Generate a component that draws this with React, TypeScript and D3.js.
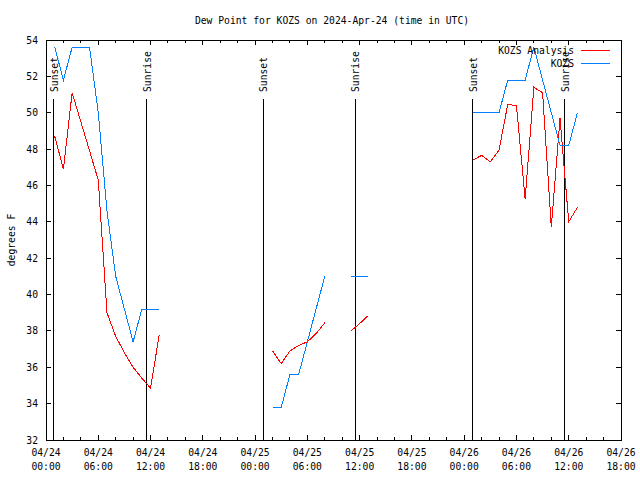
import React from "react";
import * as d3 from "d3";

// Hours after 2024-04-24 00:00 UTC (shared by both series)
const obsHours = [1, 2, 3, 4, 5, 6, 7, 8, 9, 10, 11, 12, 13, 26, 27, 28, 29, 30, 31, 32, 35, 36, 37, 49, 50, 51, 52, 53, 54, 55, 56, 57, 58, 59, 60, 61];
const kozsValues = [53.6, 51.8, 53.6, 53.6, 53.6, 50.0, 44.6, 41.0, 39.2, 37.4, 39.2, 39.2, 39.2, 33.8, 33.8, 35.6, 35.6, 37.4, 39.2, 41.0, 41.0, 41.0, 41.0, 50.0, 50.0, 50.0, 50.0, 51.8, 51.8, 51.8, 53.6, 51.8, 50.0, 48.2, 48.2, 50.0];
const analysisValues = [48.7, 46.9, 51.1, 49.5, 47.9, 46.3, 39.0, 37.7, 36.8, 36.0, 35.4, 34.85, 37.8, 36.9, 36.2, 36.9, 37.2, 37.4, 37.85, 38.45, 38.0, 38.4, 38.85, 47.4, 47.65, 47.3, 47.95, 50.45, 50.4, 45.25, 51.4, 51.1, 43.7, 49.7, 44.0, 44.8];

const sunsetTimes = ["2024-04-24T00:50Z", "2024-04-25T00:52Z", "2024-04-26T00:55Z"];
const sunriseTimes = ["2024-04-24T11:30Z", "2024-04-25T11:28Z", "2024-04-26T11:28Z"];

const yTicks = [32, 34, 36, 38, 40, 42, 44, 46, 48, 50, 52, 54];
const startTime = "2024-04-24T00:00Z";
const endTime = "2024-04-26T18:00Z";

const titleText = "Dew Point for KOZS on 2024-Apr-24 (time in UTC)";
const yLabel = "degrees F";
const seriesNames = ["KOZS Analysis", "KOZS"];
const seriesColors = ["#ff0000", "#0080ff"];

const W = 640, H = 480;
const L = 46, R = 621, T = 40, B = 440;
const FONT = "'DejaVu Sans Mono', monospace";
const FS = 9.7;

export default function App() {
  const t0 = new Date(startTime);
  const x = d3.scaleUtc().domain([t0, new Date(endTime)]).range([L, R]);
  const y = d3.scaleLinear().domain([32, 54]).range([B, T]);
  const toDate = (h: number) => new Date(t0.getTime() + h * 3600e3);

  const segments = (vals: number[]) => {
    const segs: [Date, number][][] = [];
    let cur: [Date, number][] = [];
    obsHours.forEach((h, i) => {
      if (i > 0 && h - obsHours[i - 1] > 1) {
        segs.push(cur);
        cur = [];
      }
      cur.push([toDate(h), vals[i]]);
    });
    segs.push(cur);
    return segs;
  };

  const line = d3
    .line<[Date, number]>()
    .x((d) => x(d[0]))
    .y((d) => y(d[1]));

  const majorTicks = x.ticks(d3.utcHour.every(6)!);
  const minorTicks = x.ticks(d3.utcHour.every(2)!).filter((t) => t.getUTCHours() % 6 !== 0);
  const fmtDate = d3.utcFormat("%m/%d");
  const fmtTime = d3.utcFormat("%H:%M");

  const events = [
    ...sunsetTimes.map((t) => ({ t: new Date(t), label: "Sunset" })),
    ...sunriseTimes.map((t) => ({ t: new Date(t), label: "Sunrise" })),
  ];

  const seriesData = [analysisValues, kozsValues];

  return (
    <svg
      width={W}
      height={H}
      style={{ position: "absolute", left: 0, top: 0, background: "#fff" }}
      fontFamily={FONT}
      fontSize={FS}
    >
      <rect x={0} y={0} width={W} height={H} fill="#fff" />
      <text x={332} y={20} textAnchor="middle" dominantBaseline="central" fill="#000">
        {titleText}
      </text>

      {/* y ticks */}
      {yTicks.map((v) => (
        <g key={v}>
          <line x1={L} x2={L + 5} y1={y(v)} y2={y(v)} stroke="#000" shapeRendering="crispEdges" />
          <line x1={R} x2={R - 5} y1={y(v)} y2={y(v)} stroke="#000" shapeRendering="crispEdges" />
          <text x={38} y={y(v)} textAnchor="end" dominantBaseline="central" fill="#000">
            {v}
          </text>
        </g>
      ))}

      {/* x ticks */}
      {majorTicks.map((t, i) => (
        <g key={"M" + i}>
          <line x1={x(t)} x2={x(t)} y1={B} y2={B - 5} stroke="#000" shapeRendering="crispEdges" />
          <line x1={x(t)} x2={x(t)} y1={T} y2={T + 5} stroke="#000" shapeRendering="crispEdges" />
          <text x={x(t)} y={452} textAnchor="middle" dominantBaseline="central" fill="#000">
            {fmtDate(t)}
          </text>
          <text x={x(t)} y={466} textAnchor="middle" dominantBaseline="central" fill="#000">
            {fmtTime(t)}
          </text>
        </g>
      ))}
      {minorTicks.map((t, i) => (
        <g key={"m" + i}>
          <line x1={x(t)} x2={x(t)} y1={B} y2={B - 3} stroke="#000" shapeRendering="crispEdges" />
          <line x1={x(t)} x2={x(t)} y1={T} y2={T + 3} stroke="#000" shapeRendering="crispEdges" />
        </g>
      ))}

      <text
        transform={`translate(11,240) rotate(-90)`}
        textAnchor="middle"
        dominantBaseline="central"
        fill="#000"
      >
        {yLabel}
      </text>

      {/* sunrise / sunset */}
      {events.map((e, i) => (
        <g key={"e" + i}>
          <line
            x1={Math.round(x(e.t)) + 0.5}
            x2={Math.round(x(e.t)) + 0.5}
            y1={99}
            y2={B}
            stroke="#000"
            strokeWidth={1}
            shapeRendering="crispEdges"
          />
          <text
            transform={`translate(${x(e.t) + 1},92) rotate(-90)`}
            textAnchor="start"
            dominantBaseline="central"
            fill="#000"
          >
            {e.label}
          </text>
        </g>
      ))}

      {/* series */}
      {seriesData.map((vals, si) =>
        segments(vals).map((seg, j) => (
          <path
            key={si + "-" + j}
            d={line(seg) || ""}
            fill="none"
            stroke={seriesColors[si]}
            strokeWidth={1}
            shapeRendering="crispEdges"
          />
        ))
      )}

      {/* legend */}
      {seriesNames.map((n, i) => (
        <g key={n}>
          <text x={574} y={50 + i * 13} textAnchor="end" dominantBaseline="central" fill="#000">
            {n}
          </text>
          <line
            x1={581}
            x2={610}
            y1={50.5 + i * 13}
            y2={50.5 + i * 13}
            stroke={seriesColors[i]}
            shapeRendering="crispEdges"
          />
        </g>
      ))}

      {/* frame */}
      <rect x={L + 0.5} y={T + 0.5} width={R - L} height={B - T} fill="none" stroke="#000" shapeRendering="crispEdges" />
    </svg>
  );
}
